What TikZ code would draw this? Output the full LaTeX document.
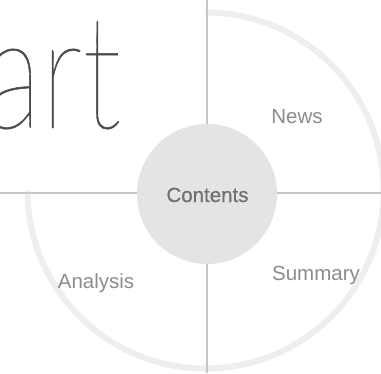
\documentclass[tikz,border=0pt]{standalone}
\usepackage{fontspec}
\setmainfont{Liberation Sans}
\IfFontExistsTF{Lato Thin}{\newfontfamily\thinfont{Lato Thin}[FakeBold=0.3]}{%
 \IfFontExistsTF{Lato Hairline}{\newfontfamily\thinfont{Lato Hairline}[FakeBold=0.6]}{%
  \IfFontExistsTF{Fira Sans Thin}{\newfontfamily\thinfont{Fira Sans Thin}}{%
   \IfFontExistsTF{Poppins Thin}{\newfontfamily\thinfont{Poppins Thin}}{%
    \IfFontExistsTF{Fira Sans Light}{\newfontfamily\thinfont{Fira Sans Light}}{%
     \IfFontExistsTF{Lato Light}{\newfontfamily\thinfont{Lato Light}}{%
      \newfontfamily\thinfont{Liberation Sans}}}}}}}
\newfontfamily\medfont{Liberation Sans}[FakeBold=0.6]
\definecolor{axisgray}{HTML}{C6C6C6}
\definecolor{ringgray}{HTML}{EEEEEE}
\definecolor{hubgray}{HTML}{E4E4E6}
\definecolor{titlegray}{HTML}{4A4A4A}
\definecolor{labelgray}{HTML}{8C8C8C}
\definecolor{hubtext}{HTML}{707070}
\tikzset{
  axisline/.style={draw=axisgray, line width=1.2pt},
  ring/.style={draw=ringgray, line width=6pt},
  hub/.style={circle, fill=hubgray, minimum size=140pt, inner sep=0pt},
  lbl/.style={anchor=base, text=labelgray, font=\fontsize{20.5}{24}\selectfont, inner sep=0pt},
  hublbl/.style={anchor=base, text=hubtext, font=\medfont\fontsize{20.5}{24}\selectfont, inner sep=0pt},
  titletext/.style={anchor=base east, text=titlegray, font=\thinfont\fontsize{159}{170}\selectfont, inner sep=0pt, xscale=0.75, transform shape}
}
\begin{document}
\begin{tikzpicture}[x=1pt,y=-1pt]
\useasboundingbox (0,0) rectangle (381,373);
\clip (0,0) rectangle (381,373);
\fill[white] (0,0) rectangle (381,373);
% title
\node[titletext] (title) at (121.5,128) {art};
% ring (three quarters)
\coordinate (ringc) at (205.5,190.5);
\draw[ring] (ringc) ++(180:178) arc[start angle=180, end angle=-90, radius=178];
% axes
\coordinate (top) at (207,0);
\coordinate (bottom) at (207,373);
\coordinate (left) at (0,193);
\coordinate (right) at (381,193);
\draw[axisline] (top) -- (bottom);
\draw[axisline] (left) -- (right);
% hub
\node[hub] (hub) at (207,194) {};
\node[hublbl] (contents) at (207.5,202) {Contents};
% labels
\node[lbl] (news) at (297,123) {News};
\node[lbl] (summary) at (316,280) {Summary};
\node[lbl] (analysis) at (96,288) {Analysis};
\end{tikzpicture}
\end{document}
